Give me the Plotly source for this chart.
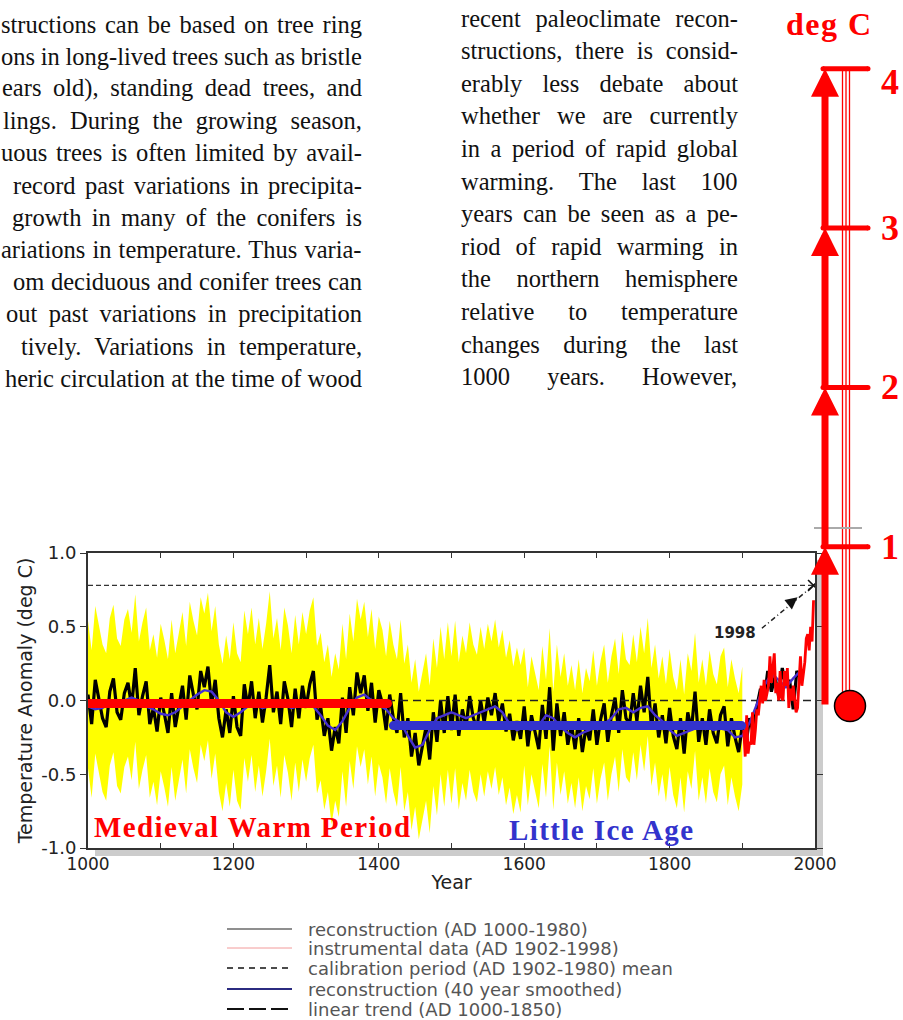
import plotly.graph_objects as go

W, H = 903, 1020

# ------------------------------------------------------------------ data
recon_years = list(range(1000, 1981, 5))
recon_values = [
    0.04, -0.16, 0.14, 0.02, -0.12, -0.18, 0.06, 0.15, -0.08, -0.13,
    0.05, 0.12, -0.04, 0.22, -0.10, 0.03, 0.13, -0.16, -0.05, -0.21,
    0.02, -0.09, -0.22, 0.05, -0.18, -0.04, 0.10, -0.13, 0.17, 0.04,
    -0.06, 0.20, 0.09, 0.23, -0.03, 0.14, -0.12, -0.25, -0.06, -0.22,
    0.03, -0.18, -0.24, 0.11, -0.05, 0.13, -0.12, 0.06, -0.15, 0.02,
    0.24, -0.08, 0.06, -0.16, 0.13, 0.01, -0.18, 0.08, -0.12, 0.10,
    -0.05, 0.11, 0.20, -0.13, -0.04, -0.24, -0.12, -0.34, -0.18, -0.29,
    0.02, -0.22, 0.09, -0.10, 0.19, 0.05, 0.17, -0.07, 0.12, -0.15,
    0.07, -0.02, -0.20, 0.04, -0.12, -0.22, 0.05, -0.25, -0.12, -0.38,
    -0.22, -0.44, -0.30, -0.18, -0.40, -0.08, -0.28, 0.00, -0.22, 0.03,
    -0.20, 0.04, -0.24, -0.06, -0.18, 0.03, -0.12, -0.19, 0.00, -0.15,
    0.02, -0.10, 0.05, -0.14, -0.02, -0.21, -0.09, -0.27, -0.14, -0.26,
    -0.04, -0.31, -0.10, -0.22, -0.33, -0.03, -0.26, 0.09, -0.34, -0.02,
    -0.24, -0.08, -0.30, -0.16, -0.33, -0.12, -0.35, -0.18, -0.27, -0.06,
    -0.30, -0.13, -0.02, -0.28, -0.10, 0.02, -0.22, 0.07, -0.12, -0.16,
    0.05, -0.14, 0.10, -0.08, 0.16, -0.18, -0.02, -0.25, -0.10, -0.29,
    -0.05, -0.24, -0.33, -0.12, -0.36, -0.08, -0.20, 0.06, -0.28, -0.12,
    -0.30, -0.06, -0.22, -0.29, -0.10, -0.04, -0.31, -0.12, -0.25, -0.35,
    -0.17, -0.30, -0.12, -0.22, -0.04, 0.08, 0.00, 0.20, 0.06, 0.16,
    0.03, 0.22, 0.09, 0.14, -0.06, 0.20, 0.15,
]
smooth_years = list(range(1000, 1981, 10))
smooth_values = [
    -0.04, -0.06, -0.05, -0.02, -0.03, 0.00, 0.02, 0.00, -0.04, -0.06,
    -0.09, -0.10, -0.08, -0.04, 0.00, 0.04, 0.07, 0.06, 0.00, -0.08,
    -0.11, -0.08, -0.04, -0.03, -0.05, -0.04, -0.02, -0.03, -0.05, -0.04,
    -0.02, -0.04, -0.10, -0.17, -0.20, -0.14, -0.05, 0.02, 0.04, 0.00,
    -0.03, -0.06, -0.12, -0.15, -0.24, -0.32, -0.30, -0.20, -0.12, -0.10,
    -0.08, -0.10, -0.12, -0.10, -0.08, -0.06, -0.04, -0.08, -0.16, -0.20,
    -0.18, -0.20, -0.17, -0.10, -0.12, -0.18, -0.22, -0.25, -0.22, -0.20,
    -0.18, -0.16, -0.12, -0.06, -0.05, -0.08, -0.05, -0.04, -0.10, -0.14,
    -0.20, -0.24, -0.22, -0.20, -0.18, -0.17, -0.20, -0.19, -0.20, -0.25,
    -0.24, -0.15, -0.02, 0.10, 0.18, 0.14, 0.09, 0.15, 0.20,
]
instr_years = list(range(1902, 1999, 2))
instr_values = [
    -0.20, -0.38, -0.10, -0.36, -0.28, -0.30, -0.08, -0.30, -0.20, -0.06,
    -0.10, 0.02, 0.10, -0.02, 0.14, 0.00, 0.04, 0.10, 0.30, 0.12,
    0.22, 0.32, 0.05, 0.12, 0.00, 0.20, 0.02, 0.00, 0.20, 0.10,
    0.22, -0.05, 0.08, 0.00, 0.10, -0.02, -0.08, -0.05, 0.10, 0.30,
    0.10, 0.20, 0.26, 0.42, 0.45, 0.34, 0.50, 0.40, 0.68,
]
# 2-sigma uncertainty half-width of the reconstruction, by period
band_start = [1000, 1400, 1600]
band_end = [1399, 1599, 1900]
band_halfwidth = [0.50, 0.50, 0.40]

calib_mean = 0.0
record_year, record_value = 1998, 0.78

period_names = ["Medieval Warm Period", "Little Ice Age"]
period_start = [1000, 1420]
period_end = [1412, 1899]
period_level = [-0.02, -0.17]
period_colors = ["#ff0000", "#3333cc"]

x_ticks = list(range(1000, 2001, 100))
y_ticks = [-1.0, -0.5, 0.0, 0.5, 1.0]
y_ticktext = ["-1.0", "-0.5", "0.0", "0.5", "1.0"]

thermo_ticks = [1, 2, 3, 4]
thermo_ticktext = ["1", "2", "3", "4"]

legend_labels = [
    "reconstruction (AD 1000-1980)",
    "instrumental data (AD 1902-1998)",
    "calibration period (AD 1902-1980) mean",
    "reconstruction (40 year smoothed)",
    "linear trend (AD 1000-1850)",
]
legend_colors = ["#6a6a6a", "#f29a9a", "#111111", "#2b2b80", "#111111"]
legend_dash = ["solid", "solid", "6px,5px", "solid", "17px,5px"]
legend_width = [1.5, 1.0, 1.5, 2.2, 2.0]

left_col = [
    ("structions can be based on tree ring", 3),
    ("ons in long-lived trees such as bristle", 3),
    ("ears old), standing dead trees, and", 4),
    ("lings. During the growing season,", 5),
    ("uous trees is often limited by avail-", 3),
    ("record past variations in precipita-", 15),
    ("growth in many of the conifers is", 14),
    ("ariations in temperature. Thus varia-", 3),
    ("om deciduous and conifer trees can", 15),
    ("out past variations in precipitation", 8),
    ("tively. Variations in temperature,", 18),
    ("heric circulation at the time of wood", 7),
]
right_col = [
    "recent paleoclimate recon-",
    "structions, there is consid-",
    "erably less debate about",
    "whether we are currently",
    "in a period of rapid global",
    "warming. The last 100",
    "years can be seen as a pe-",
    "riod of rapid warming in",
    "the northern hemisphere",
    "relative to temperature",
    "changes during the last",
    "1000 years. However,",
]

# ------------------------------------------------------------------ helpers
def px(x):
    return x / W


def py(y):
    return 1 - y / H


_lo = "abcdefghijklmnopqrstuvwxyz"
_up = "ABCDEFGHIJKLMNOPQRSTUVWXYZ"
TR = dict(zip(_lo, [444, 500, 444, 500, 444, 333, 500, 500, 278, 278, 500, 278, 778,
                    500, 500, 500, 500, 333, 389, 278, 500, 500, 722, 500, 500, 444]))
TR.update(zip(_up, [722, 667, 667, 722, 611, 556, 722, 722, 333, 389, 722, 611, 889,
                    722, 722, 556, 722, 667, 556, 611, 722, 722, 944, 722, 722, 611]))
TR.update({c: 500 for c in "0123456789"})
TR.update({" ": 250, ",": 250, ".": 250, "-": 333, "(": 333, ")": 333})


def natural_width(s, fs):
    return sum(TR.get(c, 500) for c in s) * fs / 1000.0


def justify(s, fs, target):
    n = s.count(" ")
    ws = (target - natural_width(s, fs)) / n if n else 0
    ws = max(ws, -3.0)
    return '<span style="word-spacing:%.2fpx">%s</span>' % (ws, s)


def spaced(s, ls):
    return '<span style="letter-spacing:%.2fpx">%s</span>' % (ls, s)


# ------------------------------------------------------------------ figure
fig = go.Figure()


def halfwidth(yr):
    for s, e, hw in zip(band_start, band_end, band_halfwidth):
        if s <= yr <= e:
            return hw
    return None


band_years = [y for y in recon_years if y <= band_end[-1]]
band_center = [v for y, v in zip(recon_years, recon_values) if y <= band_end[-1]]
lower = [v - halfwidth(y) for y, v in zip(band_years, band_center)]
upper = [v + halfwidth(y) for y, v in zip(band_years, band_center)]

fig.add_trace(go.Scatter(x=band_years, y=lower, mode="lines", line=dict(width=0),
                         hoverinfo="skip"))
fig.add_trace(go.Scatter(x=band_years, y=upper, mode="lines", line=dict(width=0),
                         fill="tonexty", fillcolor="#ffff00", hoverinfo="skip"))

# reconstruction (black)
fig.add_trace(go.Scatter(x=recon_years, y=recon_values, mode="lines",
                         line=dict(color="#000000", width=3.2)))
# calibration mean (dashed)
fig.add_trace(go.Scatter(x=[1000, 2000], y=[calib_mean, calib_mean], mode="lines",
                         line=dict(color="#222222", width=1.3, dash="8px,5px")))
# record level (dash-dot)
fig.add_trace(go.Scatter(x=[1000, record_year], y=[record_value, record_value], mode="lines",
                         line=dict(color="#333333", width=1.2, dash="5px,3px")))
# smoothed reconstruction
fig.add_trace(go.Scatter(x=smooth_years, y=smooth_values, mode="lines",
                         line=dict(color="#4630d0", width=2.4)))
# instrumental
fig.add_trace(go.Scatter(x=instr_years, y=instr_values, mode="lines",
                         line=dict(color="#ff0000", width=2.8)))

# period bars
for name, s, e, lev, col in zip(period_names, period_start, period_end, period_level, period_colors):
    fig.add_trace(go.Scatter(x=[s, e], y=[lev, lev], mode="lines+markers",
                             line=dict(color=col, width=9),
                             marker=dict(color=col, size=9)))

# 1998 callout
label_pos = (1890, 0.46)
fig.add_trace(go.Scatter(x=[1927, record_year], y=[0.49, record_value], mode="lines",
                         line=dict(color="#222222", width=1.5, dash="5px,3px,1px,3px")))
fig.add_trace(go.Scatter(x=[record_year], y=[record_value], mode="markers",
                         marker=dict(symbol="x-thin", size=11, line=dict(color="#111111", width=1.6))))

# ------------------------------------------------------------------ thermometer (x2/y2)
T0, TSCALE = 706, 159.3  # pixel of 0 deg and pixels per degree (layout)
ARROW_X, STEM_XS, TICK_X0, TICK_X1, LABEL_X, BULB_X = 825, [842.5, 846, 849.5], 823, 868, 890, 850

for sx in STEM_XS:
    fig.add_trace(go.Scatter(x=[sx, sx], y=[0, thermo_ticks[-1]], xaxis="x2", yaxis="y2",
                             mode="lines", line=dict(color="#ff0000", width=1.3)))
tx, ty = [], []
for v in thermo_ticks:
    tx += [TICK_X0, TICK_X1, None]
    ty += [v, v, None]
fig.add_trace(go.Scatter(x=tx, y=ty, xaxis="x2", yaxis="y2", mode="lines+markers",
                         line=dict(color="#ff0000", width=5),
                         marker=dict(color="#ff0000", size=5)))
fig.add_trace(go.Scatter(x=[BULB_X], y=[0], xaxis="x2", yaxis="y2", mode="markers",
                         marker=dict(color="#ff0000", size=31, line=dict(color="#000000", width=1.5))))

annotations = []
for v in thermo_ticks:
    annotations.append(dict(x=ARROW_X, y=v, ax=ARROW_X, ay=v - 1, xref="x2", yref="y2",
                            axref="x2", ayref="y2", text="", showarrow=True,
                            arrowhead=2, arrowsize=0.8, arrowwidth=7, arrowcolor="#ff0000",
                            standoff=0, startstandoff=0))
label_shift = [0, 0, 0, -13]
for v, t, sh in zip(thermo_ticks, thermo_ticktext, label_shift):
    annotations.append(dict(x=LABEL_X, y=v, xref="x2", yref="y2", text="<b>%s</b>" % t,
                            showarrow=False, yshift=sh, xanchor="center", yanchor="middle",
                            font=dict(family="Liberation Serif", size=36, color="#ff0000")))
annotations.append(dict(x=px(829), y=py(24), xref="paper", yref="paper",
                        xanchor="center", yanchor="middle",
                        text="<b>%s</b>" % spaced("deg C", 1.5), showarrow=False,
                        font=dict(family="Liberation Serif", size=32, color="#ff0000")))

# chart labels
period_label_pos = [(1005, -0.86), (1576, -0.88)]
for name, col, (lx, ly) in zip(period_names, period_colors, period_label_pos):
    annotations.append(dict(x=lx, y=ly, xref="x", yref="y", xanchor="left", yanchor="middle",
                            text="<b>%s</b>" % spaced(name, 1.4), showarrow=False,
                            font=dict(family="Liberation Serif", size=29, color=col)))
annotations.append(dict(x=label_pos[0], y=label_pos[1], xref="x", yref="y", text="<b>1998</b>",
                        showarrow=False, xanchor="center", yanchor="middle",
                        font=dict(family="DejaVu Sans", size=15, color="#222222")))
annotations.append(dict(x=1976, y=0.70, ax=1962, ay=0.645, xref="x", yref="y", axref="x", ayref="y",
                        text="", showarrow=True, arrowhead=2, arrowsize=1.6, arrowwidth=1.5,
                        arrowcolor="#111111", standoff=0))

# body text
FS = 24.5
for i, (s, start) in enumerate(left_col):
    yc = 24 + 32.2 * i
    annotations.append(dict(x=px(364), y=py(yc), xref="paper", yref="paper", xanchor="right",
                            yanchor="middle", text=justify(s, FS, 364 - start), showarrow=False,
                            font=dict(family="Liberation Serif", size=FS, color="#111111")))
for i, s in enumerate(right_col):
    yc = 18 + 32.6 * i
    annotations.append(dict(x=px(459), y=py(yc), xref="paper", yref="paper", xanchor="left",
                            yanchor="middle", text=justify(s, FS, 736 - 459), showarrow=False,
                            font=dict(family="Liberation Serif", size=FS, color="#111111")))

# legend (custom)
legend_rows = [929, 948, 968, 989, 1009]
shapes = []
for lab, col, dsh, lw, ry in zip(legend_labels, legend_colors, legend_dash, legend_width, legend_rows):
    shapes.append(dict(type="line", xref="paper", yref="paper", x0=px(227), x1=px(292),
                       y0=py(ry), y1=py(ry), line=dict(color=col, width=lw, dash=dsh)))
    annotations.append(dict(x=px(306), y=py(ry), xref="paper", yref="paper", xanchor="left",
                            yanchor="middle", text=lab, showarrow=False,
                            font=dict(family="DejaVu Sans", size=18, color="#555555")))

# frame shadow
shapes.append(dict(type="rect", xref="paper", yref="paper", x0=px(815), x1=px(823),
                   y0=py(856), y1=py(560), fillcolor="#cccccc", line=dict(width=0), layer="below"))
shapes.append(dict(type="rect", xref="paper", yref="paper", x0=px(95), x1=px(823),
                   y0=py(856), y1=py(848), fillcolor="#cccccc", line=dict(width=0), layer="below"))
# scan remnant near the thermometer
shapes.append(dict(type="line", xref="paper", yref="paper", x0=px(814), x1=px(862),
                   y0=py(528), y1=py(528), line=dict(color="#aaaaaa", width=2)))

axis_font = dict(family="DejaVu Sans", size=17, color="#222222")
fig.update_layout(
    width=W, height=H,
    margin=dict(l=0, r=0, t=0, b=0, pad=0),
    paper_bgcolor="#ffffff", plot_bgcolor="rgba(0,0,0,0)",
    showlegend=False,
    xaxis=dict(domain=[px(88), px(815)], range=[1000, 2000], tickvals=x_ticks,
               ticktext=[str(v) if v % 200 == 0 else "" for v in x_ticks],
               ticks="inside", ticklen=5, tickcolor="#333333", tickwidth=1.2,
               showline=True, linecolor="#333333", linewidth=2, mirror="ticks",
               showgrid=False, zeroline=False, tickfont=axis_font, automargin=False,
               title=dict(text="Year", font=dict(family="DejaVu Sans", size=19, color="#222222"),
                          standoff=2)),
    yaxis=dict(domain=[py(848), py(553)], range=[-1, 1], tickvals=y_ticks, ticktext=y_ticktext,
               ticks="outside", ticklen=6, tickcolor="#333333", tickwidth=1.2,
               showline=True, linecolor="#333333", linewidth=2, mirror="ticks",
               showgrid=False, zeroline=False, tickfont=dict(family="DejaVu Sans", size=18, color="#222222"),
               automargin=False,
               title=dict(text="Temperature Anomaly (deg C)",
                          font=dict(family="DejaVu Sans", size=19, color="#222222"), standoff=4)),
    xaxis2=dict(domain=[0, 1], range=[0, W], visible=False, anchor="y2", fixedrange=True),
    yaxis2=dict(domain=[0, 1], range=[(T0 - H) / TSCALE, T0 / TSCALE], visible=False,
                anchor="x2", fixedrange=True),
    annotations=annotations,
    shapes=shapes,
)

fig.write_html("out.html", config={"displayModeBar": False})
